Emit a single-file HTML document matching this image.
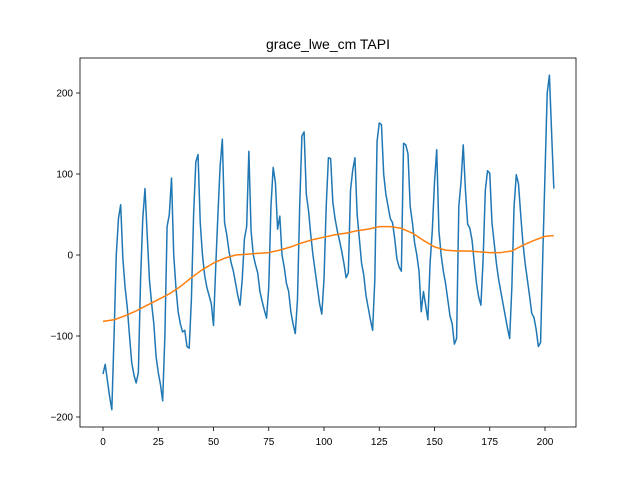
<!DOCTYPE html>
<html><head><meta charset="utf-8"><style>
body{margin:0;background:#fff;font-family:"Liberation Sans","DejaVu Sans",sans-serif}
</style></head><body>
<svg id="c" width="640" height="480" viewBox="0 0 640 480">
<rect width="640" height="480" fill="#fff"/>
<text x="328" y="49" text-anchor="middle" font-size="14">grace_lwe_cm TAPI</text>
<g id="plot"></g>
</svg>
<script>
const blueValues=[-147,-135,-155,-175,-191,-100,0,45,62,-5,-40,-65,-100,-133,-148,-158,-145,-30,45,82,25,-30,-60,-85,-125,-145,-160,-180,-100,35,50,95,0,-40,-70,-85,-95,-93,-113,-115,-55,50,115,124,40,0,-25,-40,-50,-60,-87,-15,50,110,143,40,25,5,-10,-20,-35,-50,-62,-30,20,35,128,30,0,-12,-22,-45,-57,-68,-78,-40,60,108,90,32,48,0,-15,-35,-45,-70,-85,-97,-55,60,147,152,75,55,25,0,-20,-40,-60,-73,-30,60,120,119,65,45,30,18,5,-10,-28,-22,80,105,120,50,20,-10,-25,-50,-65,-80,-93,-30,140,163,161,100,75,60,45,40,20,-5,-15,-20,138,136,125,60,40,15,0,-20,-70,-45,-62,-80,-10,30,90,130,30,0,-20,-35,-55,-75,-85,-110,-103,60,90,136,80,38,33,18,-10,-35,-52,-62,-5,80,104,101,40,15,-10,-30,-45,-60,-75,-90,-103,-40,60,99,88,50,15,-10,-30,-50,-72,-77,-92,-113,-108,0,100,200,222,150,82];
const trendX=[0,5,10,15,20,25,30,35,40,45,50,55,60,65,70,75,80,85,90,95,100,105,110,115,120,125,130,135,140,145,150,155,160,165,170,175,180,185,190,195,200,204];
const trendValues=[-82,-80,-75,-69,-62,-55,-48,-39,-28,-18,-10,-4,0,1,2,3,6,10,15,19,22,25,27,30,32,35,35,33,27,18,10,6,5,5,4,3,3,5,12,18,23,24];
const xTicks=[0,25,50,75,100,125,150,175,200];
const yTicks=[-200,-100,0,100,200];
const L=80,R=576,T=58,B=427;
const xs=v=>103+(v-0)*(545-103)/200;
const ys=v=>255-v*(417-93)/400;
const NS="http://www.w3.org/2000/svg";
const g=document.getElementById('plot');
function mk(t,a){const e=document.createElementNS(NS,t);for(const k in a)e.setAttribute(k,a[k]);g.appendChild(e);return e;}
xTicks.forEach(t=>{
 const l=mk('line',{x1:xs(t),x2:xs(t),y1:B,y2:B+4,stroke:'#000','stroke-width':0.8});
 
 
 const tx=mk('text',{x:xs(t),y:B+18,'text-anchor':'middle','font-size':10});
 tx.textContent=t;
 
 
});
yTicks.forEach(t=>{
 const l=mk('line',{x1:L-4,x2:L,y1:ys(t),y2:ys(t),stroke:'#000','stroke-width':0.8});
 
 
 const tx=mk('text',{x:L-7,y:ys(t)+3.5,'text-anchor':'end','font-size':10});
 tx.textContent=(t<0?'\u2212'+(-t):t);
 
 
});
const bp=mk('polyline',{points:blueValues.map((v,i)=>xs(i)+','+ys(v)).join(' '),fill:'none',stroke:'#1f77b4','stroke-width':1.5,'stroke-linejoin':'round'});


const op=mk('polyline',{points:trendValues.map((v,i)=>xs(trendX[i])+','+ys(v)).join(' '),fill:'none',stroke:'#ff7f0e','stroke-width':1.5,'stroke-linejoin':'round'});


const fr=mk('rect',{x:L,y:T,width:R-L,height:B-T,fill:'none',stroke:'#000','stroke-width':0.8});


</script>
</body></html>
